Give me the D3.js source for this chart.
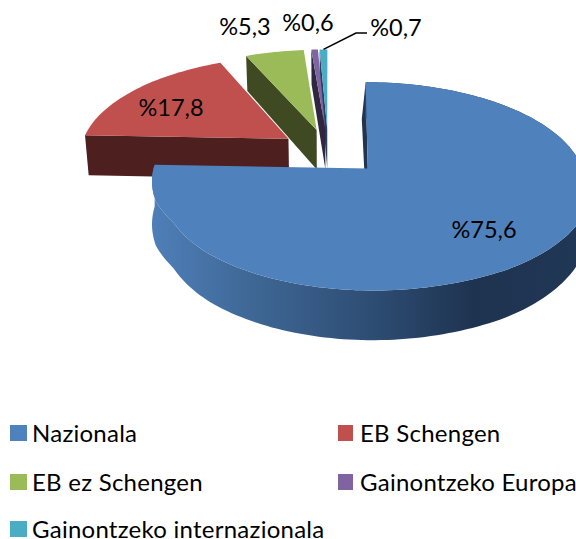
<!DOCTYPE html>
<html><head><meta charset="utf-8">
<script src="https://cdn.jsdelivr.net/npm/d3@7/dist/d3.min.js"></script>
<style>html,body{margin:0;padding:0;background:#fff;overflow:hidden}svg{display:block}text{font-family:Lato,"Open Sans",sans-serif;fill:#000}</style>
</head><body><svg id="c" width="576" height="539"></svg>
<script>
const categories=["Nazionala","EB Schengen","EB ez Schengen","Gainontzeko Europa","Gainontzeko internazionala"];
const values=[75.6,17.8,5.3,0.6,0.7];
const valueLabels=["%75,6","%17,8","%5,3","%0,6","%0,7"];
const topColors=["#4f81bd","#c0504d","#9bbb59","#8064a2","#4bacc6"];
const wallColors=["#1f3552","#4d1f1f","#3f4a22","#2f2640","#2b3f5e"];

const svg=d3.select("#c");
const Cx=328.3,Cy=151.5,R=209,Ry=98,persp=0.15,explode=0.235,depth=41,squeeze=0.985;
const xs=d3.scaleLinear().domain([-1,1]).range([Cx-R,Cx+R]);
const ys=d3.scaleLinear().domain([-1,1]).range([Cy+Ry,Cy-Ry]);
const arcs=d3.pie().sort(null).value(d=>d)(values);
// horizontal correction of the large front slice, by depth on the plate
const blueLeft=d3.scaleLinear().domain([-1.2,-1.09,-0.9,-0.66,-0.48,-0.13]).range([3,2,3,7,2,1.5]).clamp(true);
const blueRight=d3.scaleLinear().domain([-1.2,-1.02,-0.65,-0.17,0.83]).range([3,9,10,4.5,7]).clamp(true);

function project(X,Y,low,shift,isBlue){
  const s=1/(1+persp*Y);
  let x=Cx+(xs(X)-Cx)*s, y=Cy+(ys(Y)-Cy)*s;
  if(low){ if(x>Cx||!isBlue) x=Cx+(x-Cx)*squeeze; y+=depth*s; }
  return [x+shift,y];
}
function centre(a){const m=(a.startAngle+a.endAngle)/2;return [explode*Math.sin(m),explode*Math.cos(m)];}
function rimPoint(a,t,low,noShift){const c=centre(a),b=a.index===0,st=Math.sin(t),ct=Math.cos(t);
  const ux=st*(b&&st<0?0.985:1), uy=ct*(b&&ct>0?0.96:1);
  const Y=c[1]+uy;
  const shift=!b?0:noShift?3.5:(st<-1e-6?blueLeft(Y):blueRight(Y));
  return project(c[0]+ux,Y,low,shift,b);}
function rim(a,low){const n=Math.max(4,Math.ceil((a.endAngle-a.startAngle)*40));
  return d3.range(n+1).map(i=>rimPoint(a,a.startAngle+(a.endAngle-a.startAngle)*i/n,low));}
const line=d3.line();
function vertex(a,low,noShift){const c=centre(a),b=a.index===0;return project(c[0],c[1],low,!b?0:noShift?3.5:blueRight(c[1]),b);}
function topPath(a){return line([vertex(a,false),...rim(a,false)])+"Z";}
function startWall(a){const b=a.index===0;return line([vertex(a,false),rimPoint(a,a.startAngle,false),rimPoint(a,a.startAngle,true,b),vertex(a,true,b)])+"Z";}

const defs=svg.append("defs");
const grad=defs.append("linearGradient").attr("id","blueSide").attr("gradientUnits","userSpaceOnUse").attr("x1",151).attr("x2",576).attr("y1",0).attr("y2",0);
[[0,"#4f7fb9"],[0.23,"#3f6896"],[0.53,"#2d4c72"],[0.76,"#1e3350"],[1,"#203755"]].forEach(s=>grad.append("stop").attr("offset",s[0]).attr("stop-color",s[1]));

// back slices first, blue last
[4,3,2,1].forEach(i=>{
  const a=arcs[i];
  svg.append("path").attr("d",startWall(a)).attr("fill",wallColors[i]);
  svg.append("path").attr("d",topPath(a)).attr("fill",topColors[i]);
});
const blue=arcs[0];
svg.append("path").attr("d",startWall(blue)).attr("fill",wallColors[0]);
svg.append("path").attr("d",line([...rim(blue,false),...rim(blue,true).reverse()])+"Z").attr("fill","url(#blueSide)");
svg.append("path").attr("d",topPath(blue)).attr("fill",topColors[0]);

// leader
const leaderAnchor=rimPoint(arcs[4],(arcs[4].startAngle+arcs[4].endAngle)/2,false);
svg.append("path").attr("d",d3.line()([leaderAnchor,[356,33],[367,33]])).attr("fill","none").attr("stroke","#000").attr("stroke-width",1.6);

// data labels
const labelPos=[[484,230],[171,108],[245,27],[308,23],[396,28]];
valueLabels.forEach((t,i)=>svg.append("text").attr("x",labelPos[i][0]).attr("y",labelPos[i][1]).attr("dy","0.35em").attr("text-anchor","middle").attr("font-size",23.5).text(t));

// legend
const legX=d3.scaleOrdinal().domain([0,1]).range([10,338]);
const legBase=d3.scaleOrdinal().domain([0,1,2]).range([442,491,538]);
categories.forEach((c,i)=>{
  const col=i%2,row=Math.floor(i/2);
  svg.append("rect").attr("x",legX(col)).attr("y",legBase(row)-17).attr("width",col?15:17).attr("height",16).attr("fill",topColors[i]);
  svg.append("text").attr("x",legX(col)+22).attr("y",legBase(row)).attr("font-size",24).attr("letter-spacing",0.25).text(c);
});
</script></body></html>
